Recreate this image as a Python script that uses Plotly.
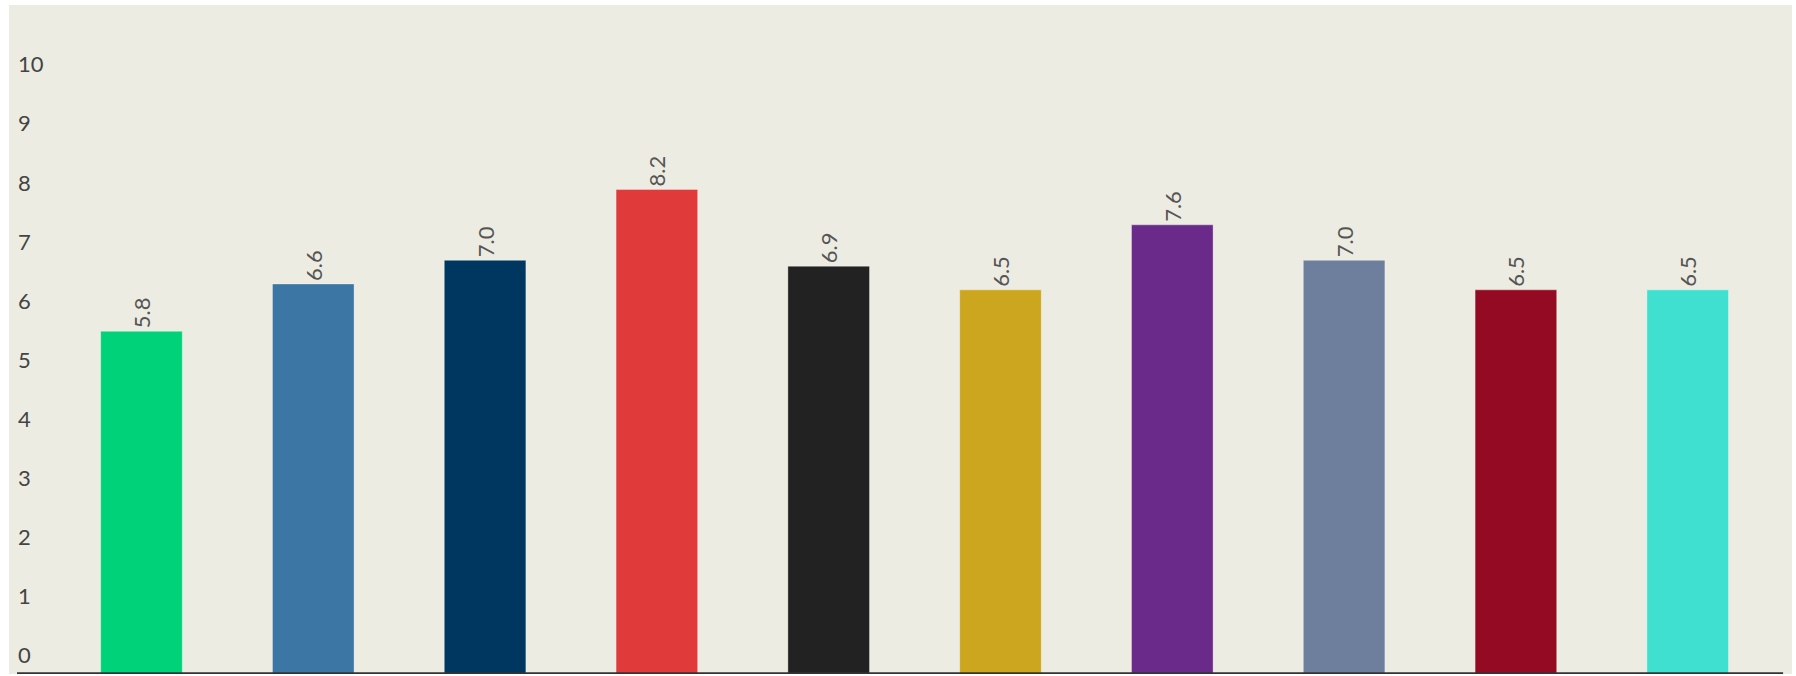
import plotly.graph_objects as go

categories = ["A", "B", "C", "D", "E", "F", "G", "H", "I", "J"]
values = [5.8, 6.6, 7.0, 8.2, 6.9, 6.5, 7.6, 7.0, 6.5, 6.5]
colors = ["#00D27A", "#3B76A5", "#003761", "#E03A3A", "#222222",
          "#CCA61F", "#6A2A8A", "#6E7F9D", "#930A22", "#40E0D0"]
y_ticks = list(range(0, 11))

fig = go.Figure()
fig.add_trace(go.Bar(
    x=categories,
    y=values,
    marker=dict(color=colors, line=dict(width=1, color="rgba(255,255,255,0.35)")),
    text=[f"{v:.1f}" for v in values],
    textposition="outside",
    textangle=-90,
    cliponaxis=False,
    textfont=dict(family="Lato", size=22, color="#555555"),
    hoverinfo="x+y",
))

fig.update_layout(
    width=1796, height=676,
    margin=dict(l=9, r=4, t=5, b=2),
    paper_bgcolor="#FFFFFF",
    plot_bgcolor="#EDECE2",
    bargap=0.525,
    showlegend=False,
    font=dict(family="Lato", size=22, color="#444444"),
    xaxis=dict(range=[-0.771, 9.607], showticklabels=False, showgrid=False,
               zeroline=False, showline=False, ticks=""),
    yaxis=dict(range=[0, 11.32], tickvals=y_ticks, showgrid=False, zeroline=False,
               showline=False, ticks="", ticklabelposition="inside top",
               ticklabelstandoff=6, ticklabelshift=-3,
               tickfont=dict(family="Lato", size=22, color="#444444")),
    shapes=[dict(type="line", xref="paper", yref="y", x0=0.0045, x1=0.995,
                 y0=0, y1=0, line=dict(color="#333333", width=3.5))],
)

fig.write_html("out.html")
